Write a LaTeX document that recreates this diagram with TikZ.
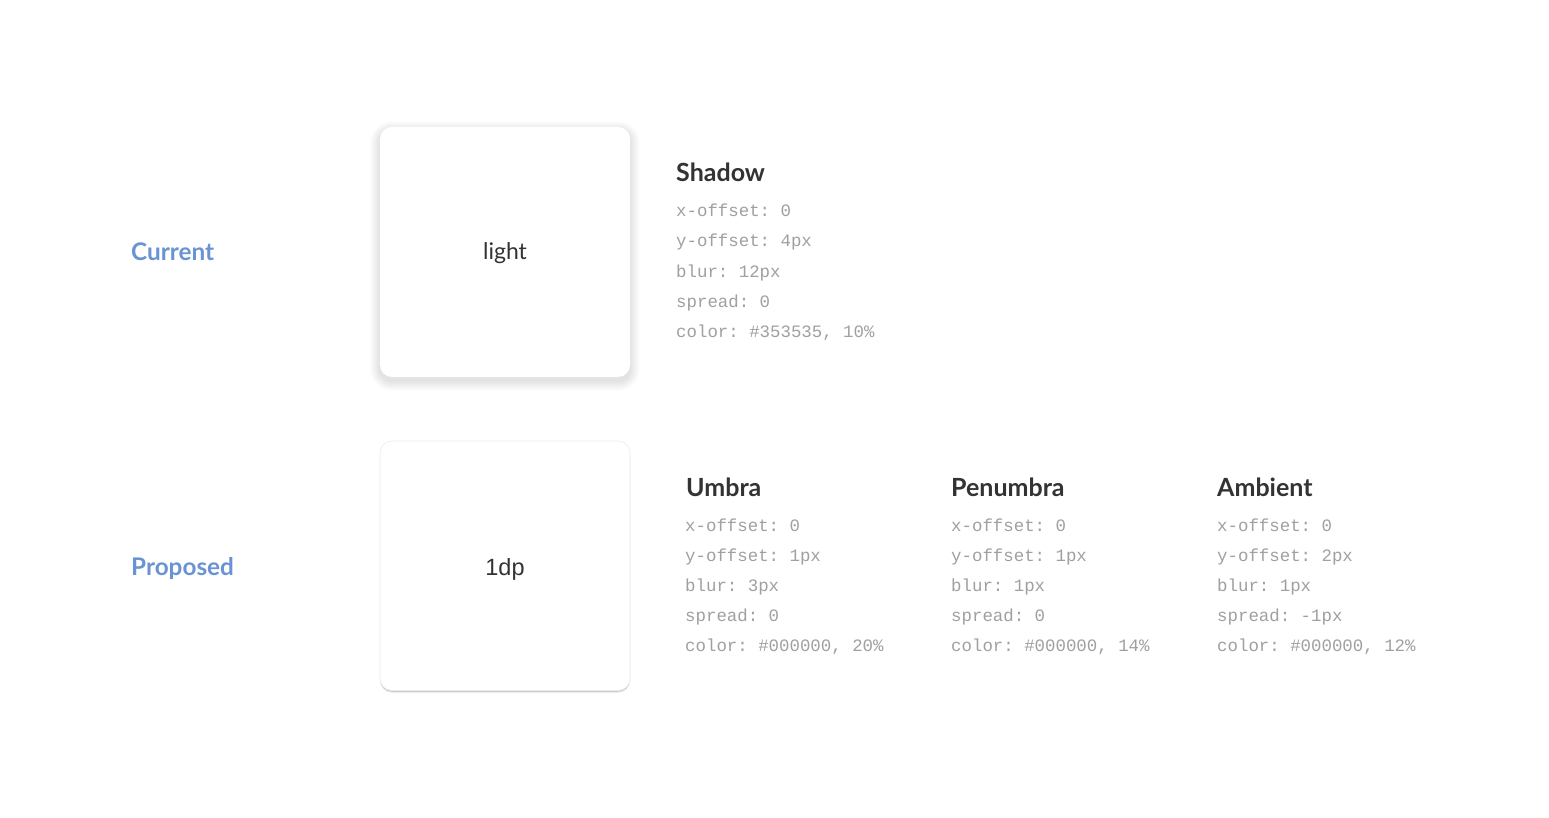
\documentclass[tikz,border=0pt]{standalone}
\usepackage{fontspec}
\setmainfont{Lato}
\newfontfamily\monofont{Liberation Mono}
\newfontfamily\helv{Liberation Sans}
\definecolor{labelblue}{HTML}{6A93D4}
\definecolor{headdark}{HTML}{333333}
\definecolor{propgray}{HTML}{A0A0A0}
\definecolor{boxtext}{HTML}{333333}
\tikzset{
  rowlabel/.style={anchor=base west, inner sep=0pt, text=labelblue, font=\fontsize{24.3}{24}\selectfont\bfseries},
  heading/.style={anchor=base west, inner sep=0pt, text=headdark, font=\fontsize{25}{25}\selectfont\bfseries},
  prop/.style={anchor=base west, inner sep=0pt, text=propgray, font=\monofont\fontsize{17.4}{17.4}\selectfont\frenchspacing},
  card/.style={rounded corners=12pt, fill=white},
}
\begin{document}
\begin{tikzpicture}[x=1pt,y=-1pt]
\useasboundingbox[fill=white] (0,0) rectangle (1549,818);
% ---- current card with soft shadow
\foreach \i in {14,13,...,1}{
  \fill[black, opacity=0.006, rounded corners=12pt+\i*0.7pt] (380-\i*0.7,127-\i*0.7+4) rectangle (630+\i*0.7,377+\i*0.7+4);
}
\fill[card] (380,127) rectangle (630,377);
\node[anchor=base, inner sep=0pt, text=boxtext, font=\fontsize{23}{23}\selectfont] (light) at (505,260) {light};
% ---- proposed card
\fill[black, opacity=0.08, rounded corners=12pt] (380,442.8) rectangle (630,692.8);
\fill[black, opacity=0.20, rounded corners=12pt] (380,441.4) rectangle (630,691.6);
\fill[card, draw=black!7, line width=0.6pt] (380,441) rectangle (630,690.6);
\node[anchor=base, inner sep=0pt, text=boxtext, font=\helv\fontsize{23.5}{23}\selectfont] (dp) at (505,575) {1dp};
% ---- row labels
\node[rowlabel] (cur) at (131,261) {Current};
\node[rowlabel] (prp) at (131,575) {Proposed};
% ---- shadow spec
\node[heading] (sh) at (676,182) {Shadow};
\node[prop] (s1) at (676,217) {x-offset: 0};
\node[prop] (s2) at (676,247) {y-offset: 4px};
\node[prop] (s3) at (676,277) {blur: 12px};
\node[prop] (s4) at (676,307) {spread: 0};
\node[prop] (s5) at (676,337) {color: \#353535, 10\%};
% ---- umbra
\node[heading] (um) at (686,496) {Umbra};
\node[prop] (u1) at (685,531) {x-offset: 0};
\node[prop] (u2) at (685,561) {y-offset: 1px};
\node[prop] (u3) at (685,591) {blur: 3px};
\node[prop] (u4) at (685,621) {spread: 0};
\node[prop] (u5) at (685,651) {color: \#000000, 20\%};
% ---- penumbra
\node[heading] (pe) at (951,496) {Penumbra};
\node[prop] (p1) at (951,531) {x-offset: 0};
\node[prop] (p2) at (951,561) {y-offset: 1px};
\node[prop] (p3) at (951,591) {blur: 1px};
\node[prop] (p4) at (951,621) {spread: 0};
\node[prop] (p5) at (951,651) {color: \#000000, 14\%};
% ---- ambient
\node[heading] (am) at (1217,496) {Ambient};
\node[prop] (a1) at (1217,531) {x-offset: 0};
\node[prop] (a2) at (1217,561) {y-offset: 2px};
\node[prop] (a3) at (1217,591) {blur: 1px};
\node[prop] (a4) at (1217,621) {spread: -1px};
\node[prop] (a5) at (1217,651) {color: \#000000, 12\%};
\end{tikzpicture}
\end{document}
